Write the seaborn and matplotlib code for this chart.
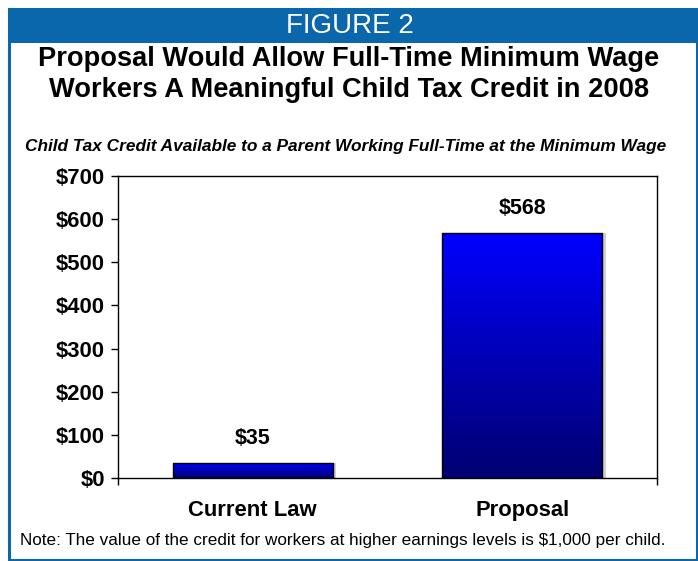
import matplotlib
matplotlib.use("Agg")
import matplotlib.pyplot as plt
import seaborn as sns
import numpy as np
from matplotlib.patches import Rectangle
from matplotlib.colors import LinearSegmentedColormap

categories = ["Current Law", "Proposal"]
values = [35, 568]
value_labels = ["$35", "$568"]
yticks = [0, 100, 200, 300, 400, 500, 600, 700]
ytick_labels = ["$0", "$100", "$200", "$300", "$400", "$500", "$600", "$700"]

sns.set_style("white")
plt.rcParams['font.family'] = ['Liberation Sans', 'DejaVu Sans']
plt.rcParams['text.color'] = 'black'
plt.rcParams['xtick.color'] = 'black'
plt.rcParams['ytick.color'] = 'black'
plt.rcParams['axes.labelcolor'] = 'black'

W, H = 698, 561
fig = plt.figure(figsize=(W / 100, H / 100), dpi=100)
blue = "#0B67AB"

# frame and header
fig.patches.append(Rectangle((9 / W, 1 / H), (W - 10) / W, (H - 10) / H, transform=fig.transFigure,
                             fill=False, edgecolor=blue, linewidth=2.2))
fig.patches.append(Rectangle((8 / W, 1 - 43 / H), (W - 8) / W, 35 / H, transform=fig.transFigure,
                             facecolor=blue, edgecolor="none"))
fig.text(350 / W, 1 - 26 / H, "FIGURE 2", color="white", fontsize=20,
         ha="center", va="center")
fig.text(349 / W, 1 - 59 / H, "Proposal Would Allow Full-Time Minimum Wage",
         fontsize=19.6, fontweight="bold", ha="center", va="center")
fig.text(349 / W, 1 - 90 / H, "Workers A Meaningful Child Tax Credit in 2008",
         fontsize=19.6, fontweight="bold", ha="center", va="center")
fig.text(346 / W, 1 - 146 / H, "Child Tax Credit Available to a Parent Working Full-Time at the Minimum Wage",
         fontsize=12.4, fontweight="bold", fontstyle="italic", ha="center", va="center")
fig.text(20 / W, 1 - 540 / H, "Note: The value of the credit for workers at higher earnings levels is $1,000 per child.",
         fontsize=12.3, ha="left", va="center")

ax = fig.add_axes([118 / W, 1 - 478 / H, 539 / W, 302 / H])
sns.barplot(x=categories, y=values, width=0.595, color="blue", edgecolor="black",
            linewidth=1.0, ax=ax)

cmap = LinearSegmentedColormap.from_list("g", ["#000070", "#0000FF"])
grad = np.linspace(0, 1, 256).reshape(-1, 1)
for p in ax.patches:
    x0, y0 = p.get_x(), p.get_y()
    w, h = p.get_width(), p.get_height()
    sh = Rectangle((x0 + 0.012, y0), w, h, facecolor="#D0D0D0", edgecolor="none", zorder=1)
    ax.add_patch(sh)
    p.set_facecolor("none")
    p.set_zorder(3)
    im = ax.imshow(grad, extent=[x0, x0 + w, y0, y0 + h], origin="lower", cmap=cmap,
                   aspect="auto", zorder=2)
    im.set_clip_path(p)

for i, (v, lab) in enumerate(zip(values, value_labels)):
    ax.annotate(lab, (i, v), xytext=(0, 10), textcoords="offset points",
                ha="center", va="bottom", fontsize=15.5, fontweight="bold", color="black")

ax.set_xlim(-0.5, 1.5)
ax.set_ylim(0, 700)
ax.set_yticks(yticks)
ax.set_yticklabels(ytick_labels, fontsize=15.8, fontweight="bold")
ax.tick_params(axis="y", direction="out", length=5, width=1, color="black", pad=4.5, left=True)
ax.set_xticks([-0.5, 1.5], minor=True)
ax.tick_params(axis="x", which="minor", direction="out", length=5, width=1, color="black", bottom=True)
ax.tick_params(axis="x", which="major", length=0, pad=16, labelsize=15.8)
for t in ax.get_xticklabels():
    t.set_fontweight("bold")
for s in ax.spines.values():
    s.set_visible(True)
    s.set_color("black")
    s.set_linewidth(1.0)
ax.set_xlabel("")
ax.set_ylabel("")

fig.savefig("out.png", dpi=100)
